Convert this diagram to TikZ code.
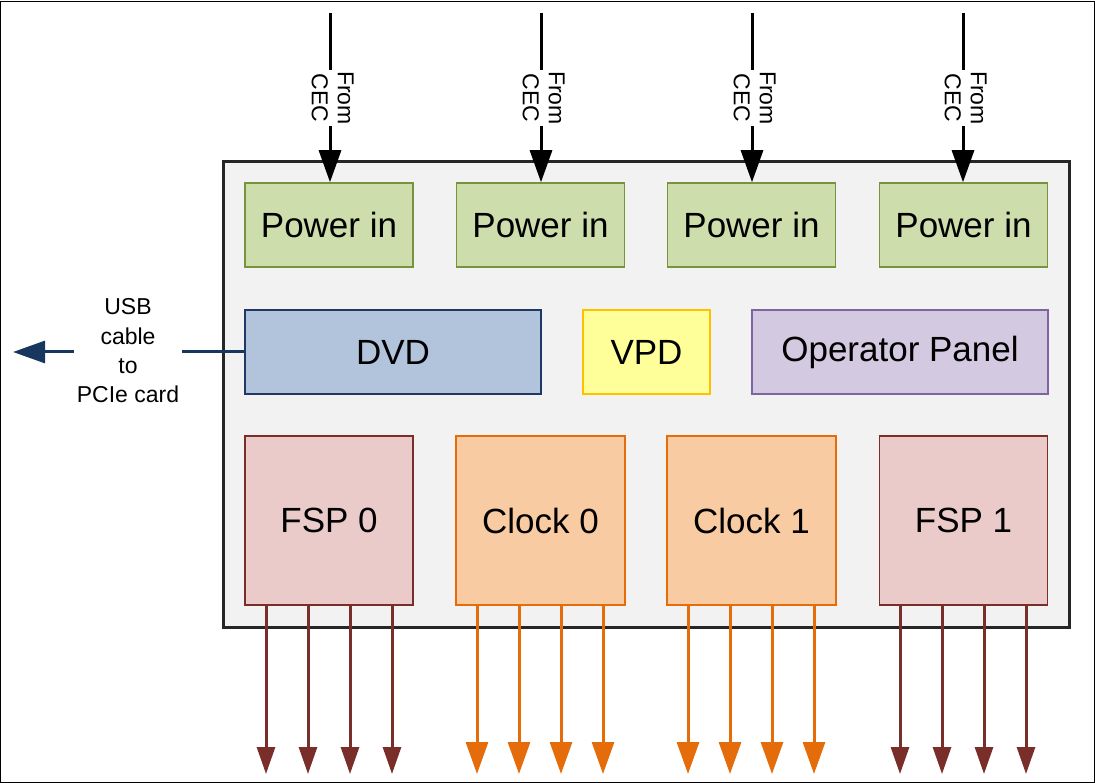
\documentclass[tikz,border=0pt]{standalone}
\usepackage{fontspec}
\setmainfont{Liberation Sans}
\usetikzlibrary{arrows.meta}
\definecolor{pwfill}{HTML}{CDDDAC}
\definecolor{pwdraw}{HTML}{77933C}
\definecolor{dvdfill}{HTML}{B1C4DC}
\definecolor{dvddraw}{HTML}{1F3864}
\definecolor{vpdfill}{HTML}{FFFF99}
\definecolor{vpddraw}{HTML}{FFC000}
\definecolor{opfill}{HTML}{D3C9E0}
\definecolor{opdraw}{HTML}{8064A2}
\definecolor{fspfill}{HTML}{EBCBCA}
\definecolor{fspdraw}{HTML}{7A2E2A}
\definecolor{clkfill}{HTML}{F9CBA3}
\definecolor{clkdraw}{HTML}{E46C0A}
\definecolor{usbcol}{HTML}{17375E}
\definecolor{mainfill}{HTML}{F2F2F2}
\definecolor{maindraw}{HTML}{262626}
\tikzset{
  blk/.style={draw, line width=1.5pt, inner sep=0pt, font=\fontsize{35}{42}\selectfont},
  pwr/.style={blk, fill=pwfill, draw=pwdraw, minimum width=168pt, minimum height=84pt},
  fsp/.style={blk, fill=fspfill, draw=fspdraw, minimum width=168pt, minimum height=169pt},
  clk/.style={blk, fill=clkfill, draw=clkdraw, minimum width=169pt, minimum height=169pt},
  cec/.style={fill=white, inner sep=1pt, font=\fontsize{23}{26}\selectfont},
  cecline/.style={line width=3pt, black},
  cecarrow/.style={cecline, -{Triangle[length=32pt,width=22pt]}},
  fsparrow/.style={line width=3pt, fspdraw, -{Triangle[length=27pt,width=18pt]}},
  clkarrow/.style={line width=3pt, clkdraw, -{Triangle[length=32pt,width=22pt]}},
  usbline/.style={line width=3pt, usbcol},
}
\begin{document}
\begin{tikzpicture}[x=1pt,y=-1pt]
\useasboundingbox (0,0) rectangle (1095,783);
\draw[line width=1pt, black] (0.5,1.5) rectangle (1094,782.5);
\node[draw=maindraw, fill=mainfill, line width=3pt, minimum width=846pt, minimum height=465pt, inner sep=0pt] (main) at (646,394.5) {};
% power in
\node[pwr] (p1) at (329,225) {Power in};
\node[pwr] (p2) at (540.5,225) {Power in};
\node[pwr] (p3) at (751.5,225) {Power in};
\node[pwr] (p4) at (963.5,225) {Power in};
% middle row
\node[blk, fill=dvdfill, draw=dvddraw, minimum width=296pt, minimum height=84pt] (dvd) at (393,352) {DVD};
\node[blk, fill=vpdfill, draw=vpddraw, minimum width=127pt, minimum height=84pt] (vpd) at (646.5,352) {VPD};
\node[blk, fill=opfill, draw=opdraw, minimum width=296pt, minimum height=84pt] (op) at (900,352) {Operator Panel};
% bottom row
\node[fsp] (f0) at (329,520.5) {FSP 0};
\node[clk] (c0) at (540.5,520.5) {Clock 0};
\node[clk] (c1) at (751.5,520.5) {Clock 1};
\node[fsp] (f1) at (963.5,520.5) {FSP 1};
% From CEC arrows
\foreach \i/\x in {1/330,2/541,3/752,4/963}{
  \coordinate (t\i) at (\x,13);
  \node[cec] (l\i) at (\x,98) {\rotatebox{-90}{\begin{tabular}{@{}c@{}}From\\CEC\end{tabular}}};
  \draw[cecline] (t\i) -- (l\i.north);
  \draw[cecarrow] (l\i.south) -- (l\i.south |- p\i.north);
}
% USB
\node[align=center, inner sep=3pt, font=\fontsize{23}{29.3}\selectfont] (usb) at (128,351) {USB\\cable\\to\\PCIe card};
\coordinate (usbtip) at (13,352);
\draw[usbline] (dvd.west) -- (dvd.west -| usb.east);
\draw[usbline, -{Triangle[length=32pt,width=22pt]}] (dvd.west -| usb.west) -- (usbtip);
% bottom arrows
\foreach \n/\x in {f0/266,f0/308,f0/350,f0/392,f1/900,f1/942,f1/984,f1/1026}{
  \coordinate (e\x) at (\x,774);
  \draw[fsparrow] (\n.south -| e\x) -- (e\x);
}
\foreach \n/\x in {c0/477,c0/519,c0/561,c0/603,c1/688,c1/730,c1/772,c1/814}{
  \coordinate (e\x) at (\x,774);
  \draw[clkarrow] (\n.south -| e\x) -- (e\x);
}
\end{tikzpicture}
\end{document}
